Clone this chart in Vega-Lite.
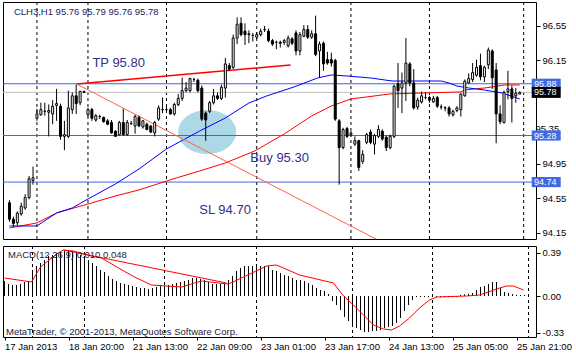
{
  "$schema": "https://vega.github.io/schema/vega-lite/v6.json",
  "background": "white",
  "padding": {"left": 2, "top": 1, "right": 0, "bottom": 0},
  "spacing": 3,
  "config": {
    "view": {"stroke": "black", "strokeWidth": 1, "fill": "white"},
    "font": "Liberation Sans",
    "axis": {"labelFont": "Liberation Sans", "labelFontSize": 9.5, "labelColor": "black", "tickColor": "black", "domain": false, "grid": false, "title": null, "zindex": 0, "labelOverlap": false}
  },
  "datasets": {
    "candles": [
      {"i":0,"o":94.50,"h":94.53,"l":94.28,"c":94.31},
      {"i":1,"o":94.31,"h":94.34,"l":94.22,"c":94.26},
      {"i":2,"o":94.27,"h":94.40,"l":94.24,"c":94.38},
      {"i":3,"o":94.37,"h":94.50,"l":94.35,"c":94.46},
      {"i":4,"o":94.44,"h":94.60,"l":94.42,"c":94.56},
      {"i":5,"o":94.56,"h":94.81,"l":94.54,"c":94.78},
      {"i":6,"o":94.76,"h":94.92,"l":94.71,"c":94.79},
      {"i":7,"o":95.48,"h":95.59,"l":95.45,"c":95.53},
      {"i":8,"o":95.52,"h":95.66,"l":95.51,"c":95.58},
      {"i":9,"o":95.56,"h":95.66,"l":95.51,"c":95.56},
      {"i":10,"o":95.55,"h":95.64,"l":95.27,"c":95.57},
      {"i":11,"o":95.53,"h":95.69,"l":95.41,"c":95.62},
      {"i":12,"o":95.63,"h":95.82,"l":95.45,"c":95.65},
      {"i":13,"o":95.62,"h":95.65,"l":95.23,"c":95.27},
      {"i":14,"o":95.27,"h":95.45,"l":95.11,"c":95.29},
      {"i":15,"o":95.27,"h":95.80,"l":95.25,"c":95.60},
      {"i":16,"o":95.58,"h":95.78,"l":95.53,"c":95.74},
      {"i":17,"o":95.74,"h":95.87,"l":95.53,"c":95.65},
      {"i":18,"o":95.66,"h":95.80,"l":95.63,"c":95.79},
      {"i":19,"o":95.79,"h":95.80,"l":95.78,"c":95.78},
      {"i":20,"o":95.52,"h":95.60,"l":95.50,"c":95.58},
      {"i":21,"o":95.58,"h":95.60,"l":95.45,"c":95.48},
      {"i":22,"o":95.46,"h":95.53,"l":95.44,"c":95.51},
      {"i":23,"o":95.50,"h":95.52,"l":95.47,"c":95.50},
      {"i":24,"o":95.49,"h":95.50,"l":95.43,"c":95.44},
      {"i":25,"o":95.45,"h":95.47,"l":95.40,"c":95.41},
      {"i":26,"o":95.43,"h":95.46,"l":95.30,"c":95.31},
      {"i":27,"o":95.33,"h":95.34,"l":95.27,"c":95.27},
      {"i":28,"o":95.29,"h":95.45,"l":95.28,"c":95.43},
      {"i":29,"o":95.43,"h":95.59,"l":95.28,"c":95.29},
      {"i":30,"o":95.29,"h":95.46,"l":95.28,"c":95.43},
      {"i":31,"o":95.42,"h":95.45,"l":95.40,"c":95.42},
      {"i":32,"o":95.39,"h":95.52,"l":95.30,"c":95.50},
      {"i":33,"o":95.49,"h":95.51,"l":95.38,"c":95.39},
      {"i":34,"o":95.38,"h":95.46,"l":95.36,"c":95.45},
      {"i":35,"o":95.41,"h":95.43,"l":95.34,"c":95.35},
      {"i":36,"o":95.39,"h":95.40,"l":95.31,"c":95.32},
      {"i":37,"o":95.31,"h":95.45,"l":95.27,"c":95.43},
      {"i":38,"o":95.47,"h":95.63,"l":95.45,"c":95.60},
      {"i":39,"o":95.58,"h":95.72,"l":95.54,"c":95.58},
      {"i":40,"o":95.58,"h":95.62,"l":95.55,"c":95.58},
      {"i":41,"o":95.58,"h":95.60,"l":95.52,"c":95.53},
      {"i":42,"o":95.53,"h":95.66,"l":95.51,"c":95.64},
      {"i":43,"o":95.64,"h":95.76,"l":95.62,"c":95.71},
      {"i":44,"o":95.71,"h":95.95,"l":95.68,"c":95.80},
      {"i":45,"o":95.80,"h":95.90,"l":95.78,"c":95.83},
      {"i":46,"o":95.80,"h":95.95,"l":95.78,"c":95.94},
      {"i":47,"o":95.93,"h":95.95,"l":95.90,"c":95.93},
      {"i":48,"o":95.92,"h":95.94,"l":95.78,"c":95.80},
      {"i":49,"o":95.83,"h":95.86,"l":95.45,"c":95.47},
      {"i":50,"o":95.54,"h":95.56,"l":95.22,"c":95.46},
      {"i":51,"o":95.56,"h":95.68,"l":95.54,"c":95.66},
      {"i":52,"o":95.66,"h":95.82,"l":95.64,"c":95.74},
      {"i":53,"o":95.74,"h":95.78,"l":95.69,"c":95.71},
      {"i":54,"o":95.71,"h":95.87,"l":95.69,"c":95.84},
      {"i":55,"o":95.83,"h":96.18,"l":95.72,"c":96.11},
      {"i":56,"o":96.09,"h":96.12,"l":96.03,"c":96.05},
      {"i":57,"o":96.07,"h":96.45,"l":96.05,"c":96.41},
      {"i":58,"o":96.41,"h":96.65,"l":96.34,"c":96.57},
      {"i":59,"o":96.58,"h":96.65,"l":96.43,"c":96.45},
      {"i":60,"o":96.49,"h":96.58,"l":96.33,"c":96.45},
      {"i":61,"o":96.45,"h":96.50,"l":96.35,"c":96.46},
      {"i":62,"o":96.44,"h":96.47,"l":96.37,"c":96.44},
      {"i":63,"o":96.42,"h":96.48,"l":96.40,"c":96.45},
      {"i":64,"o":96.45,"h":96.52,"l":96.43,"c":96.49},
      {"i":65,"o":96.51,"h":96.55,"l":96.48,"c":96.51},
      {"i":66,"o":96.49,"h":96.52,"l":96.36,"c":96.38},
      {"i":67,"o":96.38,"h":96.40,"l":96.32,"c":96.34},
      {"i":68,"o":96.36,"h":96.38,"l":96.28,"c":96.36},
      {"i":69,"o":96.36,"h":96.38,"l":96.30,"c":96.35},
      {"i":70,"o":96.36,"h":96.40,"l":96.33,"c":96.38},
      {"i":71,"o":96.32,"h":96.44,"l":96.30,"c":96.41},
      {"i":72,"o":96.40,"h":96.42,"l":96.33,"c":96.35},
      {"i":73,"o":96.47,"h":96.50,"l":96.21,"c":96.26},
      {"i":74,"o":96.26,"h":96.48,"l":96.21,"c":96.45},
      {"i":75,"o":96.43,"h":96.56,"l":96.42,"c":96.51},
      {"i":76,"o":96.51,"h":96.56,"l":96.40,"c":96.42},
      {"i":77,"o":96.42,"h":96.50,"l":96.40,"c":96.46},
      {"i":78,"o":96.46,"h":96.67,"l":96.20,"c":96.22},
      {"i":79,"o":96.26,"h":96.37,"l":95.95,"c":96.34},
      {"i":80,"o":96.35,"h":96.37,"l":96.03,"c":96.11},
      {"i":81,"o":96.16,"h":96.25,"l":96.10,"c":96.12},
      {"i":82,"o":96.16,"h":96.24,"l":96.08,"c":96.12},
      {"i":83,"o":96.15,"h":96.17,"l":95.45,"c":95.47},
      {"i":84,"o":95.45,"h":95.47,"l":94.71,"c":95.14},
      {"i":85,"o":95.14,"h":95.37,"l":95.12,"c":95.35},
      {"i":86,"o":95.36,"h":95.38,"l":95.25,"c":95.27},
      {"i":87,"o":95.29,"h":95.33,"l":95.27,"c":95.31},
      {"i":88,"o":95.18,"h":95.27,"l":95.16,"c":95.22},
      {"i":89,"o":95.22,"h":95.23,"l":94.87,"c":94.91},
      {"i":90,"o":94.98,"h":95.11,"l":94.95,"c":95.06},
      {"i":91,"o":95.20,"h":95.31,"l":95.18,"c":95.29},
      {"i":92,"o":95.32,"h":95.35,"l":95.18,"c":95.20},
      {"i":93,"o":95.18,"h":95.30,"l":95.06,"c":95.28},
      {"i":94,"o":95.27,"h":95.40,"l":95.25,"c":95.35},
      {"i":95,"o":95.33,"h":95.35,"l":95.22,"c":95.24},
      {"i":96,"o":95.26,"h":95.28,"l":95.10,"c":95.14},
      {"i":97,"o":95.14,"h":95.29,"l":95.12,"c":95.27},
      {"i":98,"o":95.27,"h":95.87,"l":95.25,"c":95.85},
      {"i":99,"o":95.88,"h":96.12,"l":95.60,"c":95.80},
      {"i":100,"o":95.83,"h":96.01,"l":95.54,"c":95.89},
      {"i":101,"o":95.89,"h":96.41,"l":95.68,"c":96.12},
      {"i":102,"o":96.11,"h":96.13,"l":95.85,"c":95.89},
      {"i":103,"o":95.89,"h":96.05,"l":95.58,"c":95.60},
      {"i":104,"o":95.61,"h":95.72,"l":95.58,"c":95.69},
      {"i":105,"o":95.67,"h":95.79,"l":95.65,"c":95.74},
      {"i":106,"o":95.72,"h":95.78,"l":95.70,"c":95.72},
      {"i":107,"o":95.72,"h":95.74,"l":95.66,"c":95.69},
      {"i":108,"o":95.67,"h":95.74,"l":95.66,"c":95.71},
      {"i":109,"o":95.72,"h":95.74,"l":95.60,"c":95.62},
      {"i":110,"o":95.61,"h":95.64,"l":95.58,"c":95.61},
      {"i":111,"o":95.60,"h":95.62,"l":95.56,"c":95.60},
      {"i":112,"o":95.60,"h":95.62,"l":95.50,"c":95.53},
      {"i":113,"o":95.52,"h":95.58,"l":95.50,"c":95.56},
      {"i":114,"o":95.57,"h":95.62,"l":95.55,"c":95.60},
      {"i":115,"o":95.58,"h":95.77,"l":95.50,"c":95.76},
      {"i":116,"o":95.74,"h":95.93,"l":95.73,"c":95.91},
      {"i":117,"o":95.89,"h":96.00,"l":95.88,"c":95.94},
      {"i":118,"o":95.93,"h":96.12,"l":95.90,"c":96.01},
      {"i":119,"o":95.98,"h":96.16,"l":95.96,"c":96.07},
      {"i":120,"o":96.09,"h":96.23,"l":95.92,"c":95.96},
      {"i":121,"o":95.96,"h":96.09,"l":95.90,"c":96.07},
      {"i":122,"o":96.10,"h":96.30,"l":96.05,"c":96.27},
      {"i":123,"o":96.26,"h":96.28,"l":95.82,"c":95.95},
      {"i":124,"o":96.04,"h":96.12,"l":95.19,"c":95.53},
      {"i":125,"o":95.53,"h":95.63,"l":95.41,"c":95.44},
      {"i":126,"o":95.43,"h":95.80,"l":95.42,"c":95.78},
      {"i":127,"o":95.79,"h":96.03,"l":95.70,"c":95.82},
      {"i":128,"o":95.82,"h":95.86,"l":95.43,"c":95.71},
      {"i":129,"o":95.74,"h":95.83,"l":95.66,"c":95.77},
      {"i":130,"o":95.76,"h":95.79,"l":95.76,"c":95.78}
    ],
    "fast": [
      {"i":0,"v":94.231},{"i":7,"v":94.231},{"i":12,"v":94.382},{"i":16,"v":94.44},{"i":20,"v":94.544},
      {"i":27,"v":94.718},{"i":33,"v":94.892},{"i":40,"v":95.124},{"i":48.5,"v":95.333},{"i":55,"v":95.483},
      {"i":61,"v":95.657},{"i":65.5,"v":95.738},{"i":72.5,"v":95.843},{"i":78.5,"v":95.947},{"i":82,"v":95.982},
      {"i":86,"v":95.97},{"i":92,"v":95.947},{"i":97.5,"v":95.912},{"i":110,"v":95.912},{"i":112,"v":95.889},
      {"i":114,"v":95.854},{"i":117,"v":95.831},{"i":121,"v":95.808},{"i":125.5,"v":95.773},{"i":130,"v":95.704}
    ],
    "slow": [
      {"i":0,"v":94.208},{"i":7,"v":94.266},{"i":12,"v":94.382},{"i":20,"v":94.486},{"i":27,"v":94.579},
      {"i":33,"v":94.649},{"i":42.5,"v":94.788},{"i":48.5,"v":94.869},{"i":55,"v":94.962},{"i":62.5,"v":95.101},
      {"i":70,"v":95.298},{"i":77,"v":95.507},{"i":82,"v":95.622},{"i":87,"v":95.704},{"i":97,"v":95.762},
      {"i":115,"v":95.785},{"i":116,"v":95.808},{"i":121,"v":95.831},{"i":123,"v":95.843},{"i":126,"v":95.866},{"i":130,"v":95.866}
    ],
    "seps": [{"i":7},{"i":20},{"i":40},{"i":63},{"i":87},{"i":107},{"i":131}],
    "macd": [
      {"i":0,"v":0.135},{"i":1,"v":0.108},{"i":2,"v":0.099},{"i":3,"v":0.099},{"i":4,"v":0.108},{"i":5,"v":0.126},
      {"i":6,"v":0.135},{"i":7,"v":0.234},{"i":8,"v":0.27},{"i":9,"v":0.297},{"i":10,"v":0.324},{"i":11,"v":0.36},
      {"i":12,"v":0.369},{"i":13,"v":0.387},{"i":14,"v":0.396},{"i":15,"v":0.405},{"i":16,"v":0.414},{"i":17,"v":0.405},
      {"i":18,"v":0.387},{"i":19,"v":0.369},{"i":20,"v":0.36},{"i":21,"v":0.324},{"i":22,"v":0.297},{"i":23,"v":0.27},
      {"i":24,"v":0.234},{"i":25,"v":0.216},{"i":26,"v":0.18},{"i":27,"v":0.153},{"i":28,"v":0.135},{"i":29,"v":0.117},
      {"i":30,"v":0.108},{"i":31,"v":0.099},{"i":32,"v":0.09},{"i":33,"v":0.081},{"i":34,"v":0.072},{"i":35,"v":0.072},
      {"i":36,"v":0.063},{"i":37,"v":0.072},{"i":38,"v":0.081},{"i":39,"v":0.09},{"i":40,"v":0.09},{"i":41,"v":0.099},
      {"i":42,"v":0.108},{"i":43,"v":0.117},{"i":44,"v":0.126},{"i":45,"v":0.135},{"i":46,"v":0.144},{"i":47,"v":0.162},
      {"i":48,"v":0.162},{"i":49,"v":0.153},{"i":50,"v":0.144},{"i":51,"v":0.126},{"i":52,"v":0.108},{"i":53,"v":0.108},
      {"i":54,"v":0.108},{"i":55,"v":0.117},{"i":56,"v":0.144},{"i":57,"v":0.18},{"i":58,"v":0.225},{"i":59,"v":0.252},
      {"i":60,"v":0.27},{"i":61,"v":0.27},{"i":62,"v":0.27},{"i":63,"v":0.27},{"i":64,"v":0.27},{"i":65,"v":0.27},
      {"i":66,"v":0.27},{"i":67,"v":0.234},{"i":68,"v":0.225},{"i":69,"v":0.207},{"i":70,"v":0.189},{"i":71,"v":0.18},
      {"i":72,"v":0.162},{"i":73,"v":0.144},{"i":74,"v":0.144},{"i":75,"v":0.135},{"i":76,"v":0.117},{"i":77,"v":0.099},
      {"i":78,"v":0.072},{"i":79,"v":0.054},{"i":80,"v":0.045},{"i":81,"v":0.018},{"i":82,"v":-0.045},{"i":83,"v":-0.081},
      {"i":84,"v":-0.126},{"i":85,"v":-0.189},{"i":86,"v":-0.225},{"i":87,"v":-0.261},{"i":88,"v":-0.288},{"i":89,"v":-0.306},
      {"i":90,"v":-0.324},{"i":91,"v":-0.324},{"i":92,"v":-0.315},{"i":93,"v":-0.315},{"i":94,"v":-0.306},{"i":95,"v":-0.288},
      {"i":96,"v":-0.279},{"i":97,"v":-0.27},{"i":98,"v":-0.243},{"i":99,"v":-0.198},{"i":100,"v":-0.135},{"i":101,"v":-0.081},
      {"i":102,"v":-0.036},{"i":103,"v":-0.01},{"i":104,"v":-0.01},{"i":105,"v":-0.01},{"i":106,"v":-0.01},{"i":107,"v":-0.01},
      {"i":108,"v":-0.01},{"i":109,"v":-0.01},{"i":110,"v":-0.01},{"i":111,"v":-0.01},{"i":112,"v":-0.01},{"i":113,"v":-0.01},
      {"i":114,"v":0.01},{"i":115,"v":0.015},{"i":116,"v":0.02},{"i":117,"v":0.027},{"i":118,"v":0.054},{"i":119,"v":0.081},
      {"i":120,"v":0.09},{"i":121,"v":0.108},{"i":122,"v":0.126},{"i":123,"v":0.126},{"i":124,"v":0.072},{"i":125,"v":0.036},
      {"i":126,"v":0.027},{"i":127,"v":0.018},{"i":128,"v":0.01},{"i":129,"v":0.01},{"i":130,"v":0.01}
    ],
    "signal": [
      {"i":0,"v":0.162},{"i":6.75,"v":0.126},{"i":9,"v":0.261},{"i":13,"v":0.378},{"i":14.75,"v":0.414},
      {"i":17.25,"v":0.405},{"i":21.75,"v":0.36},{"i":24.25,"v":0.342},{"i":28.5,"v":0.252},{"i":32.5,"v":0.171},
      {"i":36.75,"v":0.099},{"i":44.25,"v":0.081},{"i":47.5,"v":0.117},{"i":49.25,"v":0.135},{"i":53.5,"v":0.117},
      {"i":56,"v":0.108},{"i":59.25,"v":0.162},{"i":65.5,"v":0.27},{"i":68,"v":0.279},{"i":73.75,"v":0.189},
      {"i":82.25,"v":0.117},{"i":84.75,"v":0.0},{"i":87.25,"v":-0.081},{"i":89.75,"v":-0.171},{"i":92.25,"v":-0.261},
      {"i":94.75,"v":-0.297},{"i":96.75,"v":-0.306},{"i":98.75,"v":-0.27},{"i":101.25,"v":-0.198},{"i":103.75,"v":-0.108},
      {"i":106.25,"v":-0.036},{"i":108,"v":-0.009},{"i":115.5,"v":0.0},{"i":118.75,"v":0.009},{"i":123.75,"v":0.072},
      {"i":125.5,"v":0.09},{"i":127.25,"v":0.09},{"i":129.75,"v":0.054}
    ]
  },
  "vconcat": [
    {
      "width": 533,
      "height": 237,
      "layer": [
        {
          "data": {"values": [{"i": 50.375, "p": 95.321}]},
          "mark": {"type": "point", "filled": true, "opacity": 1, "strokeWidth": 0, "color": "#add8e6", "size": 3364,
                   "shape": "M -1 0 C -1 -0.42 -0.552 -0.76 0 -0.76 C 0.552 -0.76 1 -0.42 1 0 C 1 0.42 0.552 0.76 0 0.76 C -0.552 0.76 -1 0.42 -1 0 Z"},
          "encoding": {
            "x": {"field": "i", "type": "quantitative", "scale": {"domain": [-0.375, 132.875], "nice": false, "zero": false}, "axis": null},
            "y": {"field": "p", "type": "quantitative", "scale": {"domain": [94.08, 96.828], "nice": false, "zero": false},
                  "axis": {"orient": "right", "values": [94.15, 94.55, 94.95, 96.15, 96.55], "format": ".2f", "tickSize": 4, "labelPadding": 2, "labelOverlap": false}}
          }
        },
        {
          "data": {"name": "seps"},
          "mark": {"type": "rule", "color": "black", "strokeWidth": 1, "strokeDash": [3, 3]},
          "encoding": {"x": {"field": "i", "type": "quantitative", "axis": null}}
        },
        {
          "data": {"values": [{"p": 95.88}, {"p": 95.28}, {"p": 94.74}]},
          "mark": {"type": "rule", "color": "#3f66dd", "strokeWidth": 1},
          "encoding": {"y": {"field": "p", "type": "quantitative"}}
        },
        {
          "data": {"values": [{"p": 95.78}]},
          "mark": {"type": "rule", "color": "#c0c0c0", "strokeWidth": 1},
          "encoding": {"y": {"field": "p", "type": "quantitative"}}
        },
        {
          "data": {"name": "slow"},
          "mark": {"type": "line", "color": "#ff0000", "strokeWidth": 1},
          "encoding": {"x": {"field": "i", "type": "quantitative", "axis": null}, "y": {"field": "v", "type": "quantitative"}}
        },
        {
          "data": {"name": "fast"},
          "mark": {"type": "line", "color": "#0000ff", "strokeWidth": 1},
          "encoding": {"x": {"field": "i", "type": "quantitative", "axis": null}, "y": {"field": "v", "type": "quantitative"}}
        },
        {
          "data": {"values": [{"i": 17.125, "p": 95.877}, {"i": 71.625, "p": 96.098}]},
          "mark": {"type": "line", "color": "#ff0000", "strokeWidth": 1.5},
          "encoding": {"x": {"field": "i", "type": "quantitative", "axis": null}, "y": {"field": "p", "type": "quantitative"}}
        },
        {
          "data": {"values": [{"i": 17.125, "p": 95.877}, {"i": 93.375, "p": 94.08}]},
          "mark": {"type": "line", "color": "#ff6347", "strokeWidth": 1},
          "encoding": {"x": {"field": "i", "type": "quantitative", "axis": null}, "y": {"field": "p", "type": "quantitative"}}
        },
        {
          "data": {"name": "candles"},
          "mark": {"type": "rule", "color": "black", "strokeWidth": 1},
          "encoding": {
            "x": {"field": "i", "type": "quantitative", "axis": null},
            "y": {"field": "l", "type": "quantitative"},
            "y2": {"field": "h"}
          }
        },
        {
          "data": {"name": "candles"},
          "mark": {"type": "bar", "size": 2, "stroke": "black", "strokeWidth": 1},
          "encoding": {
            "x": {"field": "i", "type": "quantitative", "axis": null},
            "y": {"field": "o", "type": "quantitative"},
            "y2": {"field": "c"},
            "fill": {"condition": {"test": "datum.c >= datum.o", "value": "white"}, "value": "black"}
          }
        },
        {
          "data": {"values": [{"i": 21.125, "p": 96.121, "t": "TP 95.80"}, {"i": 61.375, "p": 95.02, "t": "Buy 95.30"}, {"i": 48.375, "p": 94.417, "t": "SL 94.70"}]},
          "mark": {"type": "text", "align": "left", "baseline": "middle", "fontSize": 13, "color": "#30308a", "font": "Liberation Sans"},
          "encoding": {"x": {"field": "i", "type": "quantitative", "axis": null}, "y": {"field": "p", "type": "quantitative"}, "text": {"field": "t"}}
        },
        {
          "data": {"values": [{"i": 1.125, "p": 96.712, "t": "CLH3,H1  95.76 95.79 95.76 95.78"}]},
          "mark": {"type": "text", "align": "left", "baseline": "middle", "fontSize": 9.5, "color": "#1c1c5c", "font": "Liberation Sans"},
          "encoding": {"x": {"field": "i", "type": "quantitative", "axis": null}, "y": {"field": "p", "type": "quantitative"}, "text": {"field": "t"}}
        },
        {
          "data": {"values": [{"p": 95.35, "t": "95.35"}]},
          "mark": {"type": "text", "align": "left", "baseline": "middle", "fontSize": 9.5, "color": "black", "font": "Liberation Sans"},
          "encoding": {"x": {"datum": 134.0, "type": "quantitative", "axis": null}, "y": {"field": "p", "type": "quantitative"}, "text": {"field": "t"}}
        },
        {
          "data": {"values": [{"p": 95.88}, {"p": 95.28}, {"p": 94.74}]},
          "mark": {"type": "point", "filled": true, "opacity": 1, "strokeWidth": 0, "color": "#4169e1", "size": 841, "shape": "M -1 -0.35 L 1 -0.35 L 1 0.35 L -1 0.35 Z"},
          "encoding": {"x": {"datum": 136.75, "type": "quantitative", "axis": null}, "y": {"field": "p", "type": "quantitative"}}
        },
        {
          "data": {"values": [{"p": 95.78}]},
          "mark": {"type": "point", "filled": true, "opacity": 1, "strokeWidth": 0, "color": "black", "size": 841, "shape": "M -1 -0.38 L 1 -0.38 L 1 0.38 L -1 0.38 Z"},
          "encoding": {"x": {"datum": 136.75, "type": "quantitative", "axis": null}, "y": {"field": "p", "type": "quantitative"}}
        },
        {
          "data": {"values": [{"p": 95.88, "t": "95.88"}, {"p": 95.78, "t": "95.78"}, {"p": 95.28, "t": "95.28"}, {"p": 94.74, "t": "94.74"}]},
          "mark": {"type": "text", "align": "left", "baseline": "middle", "fontSize": 9, "color": "white", "font": "Liberation Sans"},
          "encoding": {"x": {"datum": 133.625, "type": "quantitative", "axis": null}, "y": {"field": "p", "type": "quantitative"}, "text": {"field": "t"}}
        }
      ]
    },
    {
      "width": 533,
      "height": 91,
      "layer": [
        {
          "data": {"name": "seps"},
          "mark": {"type": "rule", "color": "black", "strokeWidth": 1, "strokeDash": [3, 3]},
          "encoding": {
            "x": {"field": "i", "type": "quantitative", "scale": {"domain": [-0.375, 132.875], "nice": false, "zero": false},
                  "axis": {"orient": "bottom", "values": [0, 16, 32, 48, 64, 80, 96, 112, 128], "tickSize": 3, "labelPadding": 1,
                           "labelAlign": "left", "labelBaseline": "top", "labelOverlap": false, "labelFlush": false, "labelBound": false,
                           "labelExpr": "['17 Jan 2013','18 Jan 20:00','21 Jan 13:00','22 Jan 09:00','23 Jan 01:00','23 Jan 17:00','24 Jan 13:00','25 Jan 05:00','25 Jan 21:00'][round(datum.value/16)]"}}
          }
        },
        {
          "data": {"name": "macd"},
          "mark": {"type": "rule", "color": "black", "strokeWidth": 1},
          "encoding": {
            "x": {"field": "i", "type": "quantitative"},
            "y": {"field": "v", "type": "quantitative", "scale": {"domain": [-0.369, 0.45], "nice": false, "zero": false},
                  "axis": {"orient": "right", "values": [-0.33, 0, 0.39], "tickSize": 4, "labelPadding": 2,
                           "labelExpr": "datum.value < 0 ? '-' + format(-datum.value, '.2f') : format(datum.value, '.2f')"}},
            "y2": {"datum": 0}
          }
        },
        {
          "data": {"name": "signal"},
          "mark": {"type": "line", "color": "#ff0000", "strokeWidth": 1},
          "encoding": {"x": {"field": "i", "type": "quantitative"}, "y": {"field": "v", "type": "quantitative"}}
        },
        {
          "data": {"values": [{"i": 14.75, "v": 0.414}, {"i": 55.5, "v": 0.117}]},
          "mark": {"type": "line", "color": "#ff0000", "strokeWidth": 1},
          "encoding": {"x": {"field": "i", "type": "quantitative"}, "y": {"field": "v", "type": "quantitative"}}
        },
        {
          "data": {"values": [{"i": 0.875, "v": 0.369, "t": "MACD(12,26,9) 0.010 0.048"}, {"i": 0.375, "v": -0.324, "t": "MetaTrader, © 2001-2013, MetaQuotes Software Corp."}]},
          "mark": {"type": "text", "align": "left", "baseline": "middle", "fontSize": 9.5, "color": "#1a1a3a", "font": "Liberation Sans"},
          "encoding": {"x": {"field": "i", "type": "quantitative"}, "y": {"field": "v", "type": "quantitative"}, "text": {"field": "t"}}
        }
      ]
    }
  ]
}
